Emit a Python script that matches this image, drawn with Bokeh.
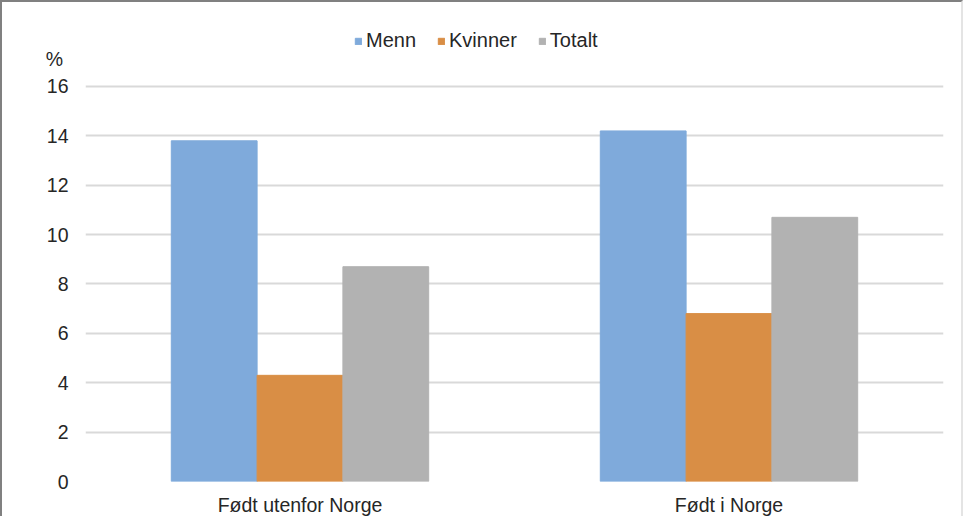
from bokeh.plotting import figure
from bokeh.models import FactorRange, Range1d, Legend, LegendItem, FixedTicker, ColumnDataSource
from bokeh.transform import dodge
from bokeh.embed import file_html
from bokeh.resources import INLINE

categories = ["Født utenfor Norge", "Født i Norge"]
series = ["Menn", "Kvinner", "Totalt"]
menn = [13.8, 14.2]
kvinner = [4.3, 6.8]
totalt = [8.7, 10.7]
colors = ["#7FAADB", "#D98E45", "#B2B2B2"]
y_ticks = [0, 2, 4, 6, 8, 10, 12, 14, 16]
unit_label = "%"
unit_pos = 17.1

FONT = "Liberation Sans"
TXT = "#262626"
FS = "19.5px"

source = ColumnDataSource(data=dict(cat=categories, Menn=menn, Kvinner=kvinner, Totalt=totalt))

p = figure(
    x_range=FactorRange(*categories),
    y_range=Range1d(0, 18.592),
    width=963, height=516,
    output_backend="svg", toolbar_location=None,
    min_border_left=83, min_border_right=22,
    min_border_top=20, min_border_bottom=37,
)
p.styles = {"border-left": "2px solid #808080", "border-top": "2px solid #808080",
            "border-right": "2px solid #E4E4E4"}

renderers = []
for s, off, c in zip(series, [-0.2, 0.0, 0.2], colors):
    r = p.vbar(x=dodge("cat", off, range=p.x_range), top=s, width=0.2, source=source,
               fill_color=c, line_color=c)
    renderers.append(r)

p.outline_line_color = None
p.xgrid.grid_line_color = None
p.ygrid.ticker = FixedTicker(ticks=y_ticks)
p.ygrid.grid_line_color = "#D9D9D9"
p.ygrid.grid_line_width = 2
p.yaxis.ticker = FixedTicker(ticks=y_ticks + [unit_pos])
p.yaxis.major_label_overrides = {unit_pos: unit_label + "\u00a0"}

for ax in (p.xaxis, p.yaxis):
    ax.axis_line_color = None
    ax.major_tick_line_color = None
    ax.minor_tick_line_color = None
    ax.major_tick_out = 0
    ax.major_tick_in = 0
    ax.major_label_text_font = FONT
    ax.major_label_text_font_size = FS
    ax.major_label_text_color = TXT
p.yaxis.major_label_standoff = 17
p.xaxis.major_label_standoff = 12

legend = Legend(
    items=[LegendItem(label=s, renderers=[r]) for s, r in zip(series, renderers)],
    orientation="horizontal",
    location=(269, 429),
    glyph_width=8, glyph_height=8, label_height=16,
    label_standoff=4, spacing=21,
    padding=0, margin=0,
    border_line_color=None, background_fill_alpha=0,
    label_text_font=FONT, label_text_font_size="20px", label_text_color=TXT,
)
p.add_layout(legend, "center")

open("out.html", "w").write(file_html(p, INLINE))
